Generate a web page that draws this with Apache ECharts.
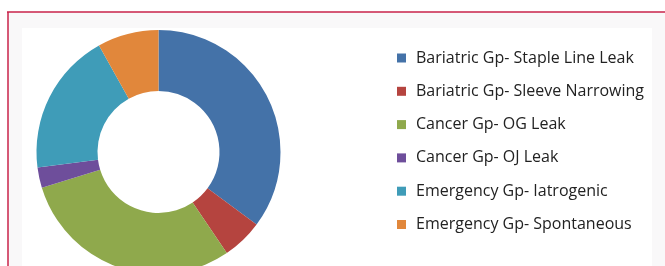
<!DOCTYPE html>
<html>
<head>
<meta charset="utf-8">
<script src="https://cdn.jsdelivr.net/npm/echarts@6/dist/echarts.min.js"></script>
<style>
  html, body { margin: 0; padding: 0; background: #fff; }
  #chart { width: 665px; height: 266px; }
</style>
</head>
<body>
<div id="chart"></div>
<script>
const categories = [
  'Bariatric Gp- Staple Line Leak',
  'Bariatric Gp- Sleeve Narrowing',
  'Cancer Gp- OG Leak',
  'Cancer Gp- OJ Leak',
  'Emergency Gp- Iatrogenic',
  'Emergency Gp- Spontaneous'
];
const counts = [13, 2, 11, 1, 7, 3];
const colors = ['#4472A8', '#B5443F', '#8FA94C', '#6E4E9B', '#3F9CB8', '#E1873B'];

const chart = echarts.init(document.getElementById('chart'));
chart.setOption({
  animation: false,
  color: colors,
  graphic: [
    // outer frame background + red border lines
    { type: 'rect', shape: { x: 8, y: 12, width: 660, height: 260 }, style: { fill: '#F9F8F9' }, silent: true },
    { type: 'rect', shape: { x: 22, y: 28, width: 630, height: 240 }, style: { fill: '#fff' }, silent: true },
    { type: 'line', shape: { x1: 7, y1: 12, x2: 665, y2: 12 }, style: { stroke: '#C8234A', lineWidth: 1.5 }, silent: true },
    { type: 'line', shape: { x1: 8, y1: 12, x2: 8, y2: 266 }, style: { stroke: '#C8234A', lineWidth: 1.5 }, silent: true }
  ],
  legend: {
    orient: 'vertical',
    left: 392,
    top: 45,
    itemWidth: 9,
    itemHeight: 9,
    itemGap: 17.3,
    icon: 'rect',
    textStyle: { fontFamily: 'Open Sans', fontSize: 16, lineHeight: 16, color: '#222', padding: [0, 0, 0, 5] },
    data: categories
  },
  series: [{
    type: 'pie',
    center: [158.5, 152],
    radius: [61, 122],
    startAngle: 90,
    clockwise: true,
    label: { show: false },
    labelLine: { show: false },
    itemStyle: { borderWidth: 0 },
    data: categories.map((name, i) => ({ name: name, value: counts[i] }))
  }]
});
</script>
</body>
</html>
